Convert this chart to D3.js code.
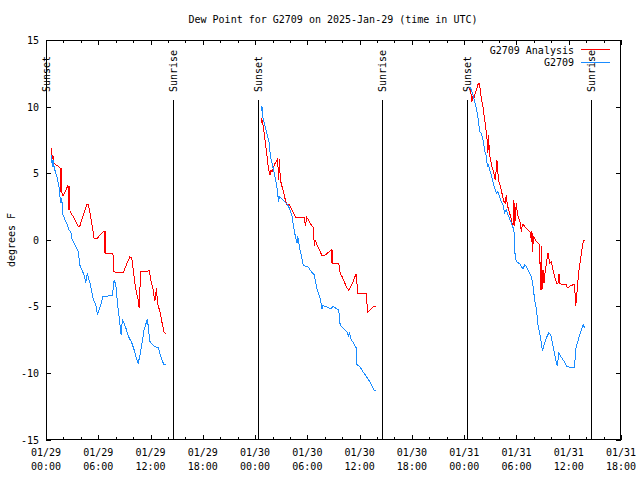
<!DOCTYPE html>
<html><head><meta charset="utf-8">
<script src="https://cdn.jsdelivr.net/npm/d3@7"></script>
<style>body{margin:0;background:#fff}svg text{font-family:"DejaVu Sans Mono","Liberation Mono",monospace;font-size:10px;fill:#000}</style>
</head><body><svg id="c" width="640" height="480"></svg>
<script>
const title = "Dew Point for G2709 on 2025-Jan-29 (time in UTC)";
const yLabel = "degrees F";
const seriesNames = ["G2709 Analysis", "G2709"];
const seriesColors = ["#ff0000", "#1a8cff"];
const startTime = "2025-01-29T00:00:00Z";
const endTime = "2025-01-31T18:00:00Z";
const yTicks = [-15, -10, -5, 0, 5, 10, 15];
// sun events, hours after 01/29 00:00 UTC
const sunsetHours = [0.05, 24.29, 48.3];
const sunriseHours = [14.53, 38.52, 62.51];

// G2709 Analysis (hours after start, deg F); null separates nights
const analysisHours = [
0.61,0.62,0.80,0.84,1.30,1.64,1.72,1.76,1.80,1.95,2.53,2.64,2.68,2.76,3.22,3.71,3.87,4.29,4.68,4.86,5.02,5.21,5.52,5.90,6.47,6.70,6.75,6.82,6.86,7.62,7.70,7.74,7.80,8.08,8.85,9.23,9.62,9.85,10.03,10.31,10.54,10.69,10.80,10.89,11.38,11.84,12.10,12.30,12.49,12.68,12.79,13.07,13.30,13.56,13.83,
null,
24.68,24.79,24.86,24.94,25.06,25.17,25.32,25.44,25.55,25.71,25.83,25.94,26.21,26.59,26.70,26.78,26.90,27.09,27.24,27.47,27.62,27.93,28.24,28.62,29.00,29.66,29.77,29.92,30.23,30.54,30.69,30.80,30.89,31.18,31.69,31.95,32.53,32.72,32.79,32.84,32.91,33.60,33.76,34.06,34.45,34.75,35.21,35.60,35.71,35.78,36.75,36.93,37.32,37.59,37.90,
null,
48.62,48.82,48.89,49.00,49.11,49.39,49.57,49.66,49.77,49.85,49.97,50.16,50.28,50.44,50.55,50.67,50.72,50.80,50.89,51.03,51.18,51.41,51.57,51.69,51.76,51.87,51.99,52.18,52.33,52.56,52.72,52.84,52.95,53.10,53.33,53.48,53.60,53.71,53.79,53.87,53.99,54.10,54.25,54.45,54.56,54.68,54.79,54.94,55.32,55.63,55.71,55.78,55.86,55.94,56.29,56.67,56.75,56.86,56.93,57.05,57.16,57.32,57.47,57.62,57.82,58.01,58.20,58.39,58.59,58.77,58.89,59.00,59.34,59.74,59.85,60.11,60.49,60.69,60.77,60.89,61.00,61.15,61.30,61.46,61.57,61.69,61.92];
const analysisDew = [
6.88,5.93,6.38,5.75,5.57,5.38,3.62,5.38,3.62,3.30,4.07,2.25,4.07,2.12,1.63,1.00,1.00,1.88,2.63,2.63,2.12,1.37,0.13,0.13,0.55,0.62,-1.00,0.62,-1.00,-1.00,-1.15,-2.40,-2.40,-2.45,-2.50,-1.88,-1.30,-1.37,-2.38,-3.75,-4.37,-5.12,-3.45,-2.38,-2.38,-2.33,-3.25,-3.75,-4.63,-3.62,-4.75,-5.38,-6.17,-6.99,-7.04,
null,
9.13,8.75,9.00,8.38,8.00,7.25,6.62,5.87,5.25,4.88,5.25,5.12,5.63,6.05,4.50,6.05,4.50,4.00,3.62,3.00,2.63,2.63,2.25,1.70,1.67,1.70,1.00,1.70,1.37,1.00,0.95,-0.50,0.00,-0.50,-1.20,-1.20,-0.88,-0.75,-1.75,-0.75,-1.75,-1.75,-2.50,-2.87,-3.50,-3.80,-3.20,-2.55,-3.38,-4.05,-4.05,-5.45,-5.20,-5.00,-5.00,
null,
11.38,10.88,10.38,10.75,10.63,11.25,11.63,11.75,11.75,11.13,10.63,10.00,9.38,8.63,8.00,7.25,6.50,7.88,6.50,6.00,5.50,5.00,4.50,5.38,6.00,5.00,4.37,4.00,3.50,2.87,2.75,3.38,2.63,2.25,1.75,1.25,1.00,3.00,1.00,1.75,2.75,2.00,1.63,1.25,0.62,1.13,1.13,1.00,0.75,0.50,-0.13,0.62,-0.95,0.25,-0.13,-0.38,-3.75,-0.50,-3.75,-2.25,-3.25,-2.25,-1.63,-1.00,-1.75,-1.63,-2.25,-2.75,-3.25,-3.25,-2.55,-3.30,-3.38,-3.38,-3.62,-3.50,-3.38,-3.38,-5.00,-4.50,-3.50,-2.38,-1.75,-1.00,-0.50,-0.08,-0.08];

// G2709 observed
const stationHours = [
0.61,0.72,0.80,0.92,1.11,1.30,1.49,1.64,1.72,1.80,1.95,2.18,2.45,2.64,2.84,2.95,3.22,3.48,3.71,3.87,4.10,4.37,4.48,4.56,4.75,4.86,5.02,5.25,5.44,5.71,5.90,6.09,6.29,6.55,7.62,7.82,8.01,8.20,8.39,8.62,8.77,8.97,9.23,9.46,9.85,10.11,10.34,10.57,10.80,11.03,11.26,11.64,11.92,12.41,12.91,13.10,13.33,13.56,13.79,
null,
24.68,24.79,24.86,25.06,25.25,25.44,25.63,25.75,25.94,26.21,26.47,26.70,26.78,26.98,27.36,27.74,28.01,28.24,28.39,28.62,28.82,28.89,29.08,29.28,29.54,30.04,30.43,30.80,31.00,31.18,31.46,31.69,31.76,32.22,32.72,32.91,33.37,33.60,33.76,34.06,34.52,34.75,34.83,35.02,35.29,35.52,35.67,35.68,35.98,36.36,36.75,37.13,37.44,37.70,37.90,
null,
48.62,48.82,49.00,49.20,49.39,49.57,49.77,49.97,50.16,50.34,50.54,50.66,50.80,50.92,51.11,51.30,51.49,51.69,51.87,52.07,52.26,52.45,52.64,52.84,53.10,53.41,53.71,53.79,53.87,53.99,54.37,54.56,54.75,54.94,55.14,55.40,55.71,55.90,56.09,56.29,56.47,56.67,56.86,56.98,57.16,57.44,57.70,57.93,58.20,58.39,58.59,58.70,58.85,59.08,59.46,59.74,60.11,60.69,60.77,61.00,61.26,61.46,61.65,61.84];
const stationDew = [
6.38,5.50,6.00,5.50,5.00,4.63,4.00,3.00,2.75,3.13,1.88,1.50,1.13,0.75,0.62,0.13,-0.25,-0.62,-0.88,-1.88,-2.25,-2.63,-2.95,-3.25,-2.50,-2.87,-3.13,-3.88,-4.50,-4.88,-5.63,-5.25,-4.88,-4.25,-4.20,-3.00,-3.38,-4.75,-5.75,-7.13,-6.00,-6.29,-6.75,-7.25,-7.75,-8.25,-8.85,-9.30,-8.63,-7.73,-6.75,-5.95,-7.63,-8.00,-8.12,-8.63,-9.08,-9.38,-9.38,
null,
9.70,10.00,9.25,8.75,8.25,7.75,7.25,6.25,5.75,5.00,4.13,2.87,3.25,3.13,2.87,2.63,2.25,1.75,1.13,0.25,-0.25,0.25,-0.50,-1.13,-1.95,-2.00,-2.38,-2.63,-3.38,-3.88,-4.37,-5.20,-4.95,-5.05,-5.18,-5.00,-5.18,-5.25,-6.38,-6.62,-6.88,-7.25,-6.95,-7.50,-7.75,-8.05,-8.12,-9.38,-9.50,-9.88,-10.25,-10.63,-11.00,-11.33,-11.33,
null,
11.50,11.25,10.88,10.38,9.88,9.25,8.13,8.00,7.50,6.75,6.25,5.50,5.63,5.25,4.88,4.37,3.88,3.50,3.62,3.25,2.87,2.63,2.00,2.25,1.75,1.25,0.75,-0.75,-1.25,-1.63,-1.80,-2.00,-2.20,-1.88,-2.00,-2.38,-2.75,-3.50,-4.50,-5.25,-6.38,-7.00,-7.75,-8.38,-7.88,-7.37,-7.00,-7.13,-8.00,-8.63,-9.25,-9.50,-8.50,-8.75,-9.13,-9.50,-9.58,-9.58,-8.25,-7.75,-7.13,-6.75,-6.38,-6.62];

const svg = d3.select("#c");
const L = 46, R = 621, T = 40, B = 439.5;
const t0 = new Date(startTime);
const hr = h => new Date(t0.getTime() + h * 3600000);
const x = d3.scaleUtc().domain([t0, new Date(endTime)]).range([L, R]);
const y = d3.scaleLinear().domain([-15, 15]).range([B, T]);

const majors = d3.utcHour.every(6).range(x.domain()[0], new Date(+x.domain()[1] + 1));
const minors = d3.utcHour.every(2).range(x.domain()[0], new Date(+x.domain()[1] + 1));
const g = svg.append("g").attr("shape-rendering", "crispEdges");
minors.forEach(d => {
  const isMaj = d.getUTCHours() % 6 === 0;
  const len = isMaj ? 5 : 3;
  const xx = Math.round(x(d)) + 0.5;
  g.append("line").attr("x1", xx).attr("x2", xx).attr("y1", B).attr("y2", B - len).attr("stroke", "#000");
  g.append("line").attr("x1", xx).attr("x2", xx).attr("y1", T).attr("y2", T + len).attr("stroke", "#000");
});
yTicks.forEach(v => {
  const yy = Math.round(y(v)) + 0.5;
  g.append("line").attr("x1", L).attr("x2", L + 5).attr("y1", yy).attr("y2", yy).attr("stroke", "#000");
  g.append("line").attr("x1", R).attr("x2", R - 5).attr("y1", yy).attr("y2", yy).attr("stroke", "#000");
  svg.append("text").attr("x", 39).attr("y", yy).attr("text-anchor", "end").attr("dominant-baseline", "central").text(v);
});
const fmtD = d3.utcFormat("%m/%d"), fmtT = d3.utcFormat("%H:%M");
majors.forEach(d => {
  svg.append("text").attr("x", x(d)).attr("y", 456).attr("text-anchor", "middle").text(fmtD(d));
  svg.append("text").attr("x", x(d)).attr("y", 470).attr("text-anchor", "middle").text(fmtT(d));
});
g.append("rect").attr("x", L + 0.5).attr("y", T + 0.5).attr("width", R - L - 1).attr("height", B - T - 0.5).attr("fill", "none").attr("stroke", "#000");

const sun = sunsetHours.map(h => ({h, n: "Sunset"})).concat(sunriseHours.map(h => ({h, n: "Sunrise"})));
sun.forEach(s => {
  const xx = Math.round(x(hr(s.h))) + 0.5;
  g.append("line").attr("x1", xx).attr("x2", xx).attr("y1", y(-15)).attr("y2", 100).attr("stroke", "#000");
  svg.append("text").attr("transform", `translate(${xx},92) rotate(-90)`).attr("dominant-baseline", "central").text(s.n);
});

function pts(hs, vs) { return hs.map((h, i) => ({t: h == null ? null : hr(h), v: vs[i]})); }
const line = d3.line().defined(d => d.v != null).x(d => x(d.t)).y(d => y(d.v));
[[analysisHours, analysisDew], [stationHours, stationDew]].forEach((s, i) => {
  svg.append("path").datum(pts(s[0], s[1])).attr("d", line).attr("fill", "none")
    .attr("stroke", seriesColors[i]).attr("stroke-width", 1).attr("shape-rendering", "crispEdges");
});

seriesNames.forEach((n, i) => {
  const yy = 50 + i * 12.5;
  svg.append("text").attr("x", 574).attr("y", yy).attr("text-anchor", "end").attr("dominant-baseline", "central").text(n);
  svg.append("line").attr("x1", 581).attr("x2", 610).attr("y1", Math.round(yy) - 0.5).attr("y2", Math.round(yy) - 0.5)
    .attr("stroke", seriesColors[i]).attr("shape-rendering", "crispEdges");
});

svg.append("text").attr("x", 333).attr("y", 23).attr("text-anchor", "middle").text(title);
svg.append("text").attr("transform", "translate(11,240) rotate(-90)").attr("text-anchor", "middle").attr("dominant-baseline", "central").text(yLabel);
</script></body></html>
